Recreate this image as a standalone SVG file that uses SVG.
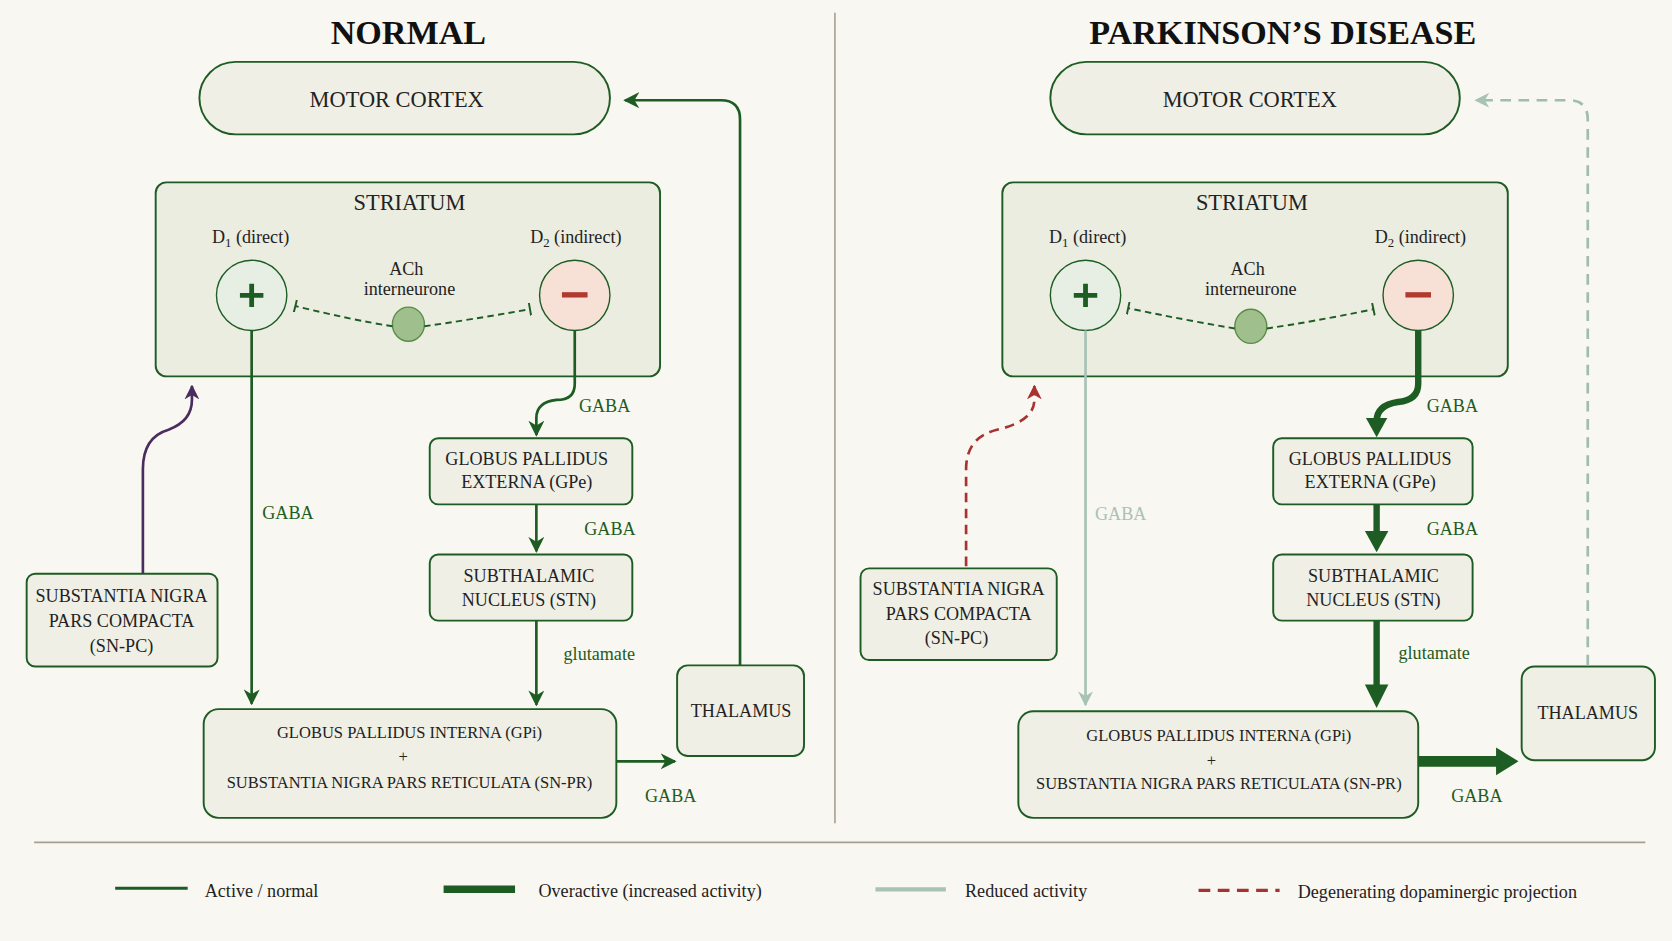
<svg xmlns="http://www.w3.org/2000/svg" width="1672" height="941" viewBox="0 0 1672 941">
<defs>
<style>
text{font-family:"Liberation Serif","DejaVu Serif",serif;fill:#222;text-anchor:middle}
.t{font-size:32px;font-weight:bold;fill:#111}
.n{font-size:17px}
.s{font-size:15.5px}
.nb{font-size:21px}
.box{fill:#efefe5;stroke:#1d5c22;stroke-width:1.8}
.lab{fill:#1d5c22;font-size:17px}
.g{fill:none;stroke:#1d5c22;stroke-width:2.5}
.gt{fill:none;stroke:#1d5c22;stroke-width:6}
.lt{fill:none;stroke:#a8c2b6;stroke-width:2.5}
</style>
<marker id="ag" viewBox="0 0 10 10" refX="9" refY="5" markerWidth="15" markerHeight="15" markerUnits="userSpaceOnUse" orient="auto"><path d="M0,0 L10,5 L0,10 L3,5z" fill="#1d5c22"/></marker>
<marker id="al" viewBox="0 0 10 10" refX="9" refY="5" markerWidth="14" markerHeight="14" markerUnits="userSpaceOnUse" orient="auto"><path d="M0,0 L10,5 L0,10 L3,5z" fill="#a8c2b6"/></marker>
<marker id="ap" viewBox="0 0 10 10" refX="9" refY="5" markerWidth="14" markerHeight="14" markerUnits="userSpaceOnUse" orient="auto"><path d="M0,0 L10,5 L0,10 L3,5z" fill="#4a2d5e"/></marker>
<marker id="ar" viewBox="0 0 10 10" refX="9" refY="5" markerWidth="14" markerHeight="14" markerUnits="userSpaceOnUse" orient="auto"><path d="M0,0 L10,5 L0,10 L3,5z" fill="#a83232"/></marker>
<marker id="tb" viewBox="0 0 4 12" refX="2" refY="6" markerWidth="4" markerHeight="12" markerUnits="userSpaceOnUse" orient="auto"><path d="M2,0 V12" stroke="#1d5c22" stroke-width="1.8"/></marker>
</defs>
<rect width="1672" height="941" fill="#f9f7f1"/>
<g transform="scale(1.06633)">
<line x1="783" y1="12" x2="783" y2="772" stroke="#a89f92" stroke-width="1.5"/>
<line x1="32" y1="790" x2="1543" y2="790" stroke="#a89f92" stroke-width="1.5"/>
<text class="t" x="383" y="41">NORMAL</text>
<text class="t" x="1203" y="41">PARKINSON’S DISEASE</text>

<!-- Normal nodes -->
<g id="n-motor"><rect class="box" x="187" y="58" width="385" height="68" rx="34"/><text class="nb" x="372" y="100">MOTOR CORTEX</text></g>
<g id="n-striatum"><rect x="146" y="171" width="473" height="182" rx="10" fill="#ebede1" stroke="#1d5c22" stroke-width="1.8"/><text class="nb" x="384" y="197">STRIATUM</text>
<text class="n" x="235" y="228" font-size="18">D<tspan font-size="12" dy="4">1</tspan><tspan dy="-4"> (direct)</tspan></text>
<text class="n" x="540" y="228" font-size="18">D<tspan font-size="12" dy="4">2</tspan><tspan dy="-4"> (indirect)</tspan></text></g>
<g id="n-d1"><circle cx="236" cy="277" r="33" fill="#e7eee4" stroke="#1d5c22" stroke-width="1.3"/><path d="M236,266 V288 M225,277 H247" stroke="#1d5c22" stroke-width="4.5"/></g>
<g id="n-d2"><circle cx="539" cy="277" r="33" fill="#f7e0d6" stroke="#1d5c22" stroke-width="1.3"/><rect x="527" y="274" width="24" height="5" fill="#b03a2e"/></g>
<g id="n-ach"><text class="n" x="381" y="258">ACh</text><text class="n" x="384" y="277">interneurone</text><ellipse cx="383" cy="304" rx="15" ry="16" fill="#9fc08c" stroke="#5b8a4a" stroke-width="1.3"/></g>
<g id="n-gpe"><rect class="box" x="403" y="411" width="190" height="62" rx="8"/><text class="n" x="494" y="436">GLOBUS PALLIDUS</text><text class="n" x="494" y="458">EXTERNA (GPe)</text></g>
<g id="n-stn"><rect class="box" x="403" y="520" width="190" height="62" rx="8"/><text class="n" x="496" y="546">SUBTHALAMIC</text><text class="n" x="496" y="568">NUCLEUS (STN)</text></g>
<g id="n-gpi"><rect class="box" x="191" y="665" width="387" height="102" rx="14"/><text class="s" x="384" y="692">GLOBUS PALLIDUS INTERNA (GPi)</text><text class="s" x="378" y="715">+</text><text class="s" x="384" y="739">SUBSTANTIA NIGRA PARS RETICULATA (SN-PR)</text></g>
<g id="n-thal"><rect class="box" x="635" y="624" width="119" height="85" rx="10"/><text class="n" x="695" y="672">THALAMUS</text></g>
<g id="n-snpc"><rect class="box" x="25" y="538" width="179" height="87" rx="8"/><text class="n" x="114" y="565">SUBSTANTIA NIGRA</text><text class="n" x="114" y="588">PARS COMPACTA</text><text class="n" x="114" y="611">(SN-PC)</text></g>
<g id="labels-normal"><text class="lab" x="270" y="487">GABA</text><text class="lab" x="567" y="386">GABA</text><text class="lab" x="572" y="502">GABA</text><text class="lab" x="562" y="619">glutamate</text><text class="lab" x="629" y="752">GABA</text></g>

<!-- PD nodes -->
<g id="p-motor"><rect class="box" x="985" y="58" width="384" height="68" rx="34"/><text class="nb" x="1172" y="100">MOTOR CORTEX</text></g>
<g id="p-striatum"><rect x="940" y="171" width="474" height="182" rx="10" fill="#ebede1" stroke="#1d5c22" stroke-width="1.8"/><text class="nb" x="1174" y="197">STRIATUM</text>
<text class="n" x="1020" y="228" font-size="18">D<tspan font-size="12" dy="4">1</tspan><tspan dy="-4"> (direct)</tspan></text>
<text class="n" x="1332" y="228" font-size="18">D<tspan font-size="12" dy="4">2</tspan><tspan dy="-4"> (indirect)</tspan></text></g>
<g id="p-d1"><circle cx="1018" cy="277" r="33" fill="#e7eee4" stroke="#1d5c22" stroke-width="1.3"/><path d="M1018,266 V288 M1007,277 H1029" stroke="#1d5c22" stroke-width="4.5"/></g>
<g id="p-d2"><circle cx="1330" cy="277" r="33" fill="#f7e0d6" stroke="#1d5c22" stroke-width="1.3"/><rect x="1318" y="274" width="24" height="5" fill="#b03a2e"/></g>
<g id="p-ach"><text class="n" x="1170" y="258">ACh</text><text class="n" x="1173" y="277">interneurone</text><ellipse cx="1173" cy="306" rx="15" ry="16" fill="#9fc08c" stroke="#5b8a4a" stroke-width="1.3"/></g>
<g id="p-gpe"><rect class="box" x="1194" y="411" width="187" height="62" rx="8"/><text class="n" x="1285" y="436">GLOBUS PALLIDUS</text><text class="n" x="1285" y="458">EXTERNA (GPe)</text></g>
<g id="p-stn"><rect class="box" x="1194" y="520" width="187" height="62" rx="8"/><text class="n" x="1288" y="546">SUBTHALAMIC</text><text class="n" x="1288" y="568">NUCLEUS (STN)</text></g>
<g id="p-gpi"><rect class="box" x="955" y="667" width="375" height="100" rx="14"/><text class="s" x="1143" y="695">GLOBUS PALLIDUS INTERNA (GPi)</text><text class="s" x="1136" y="718">+</text><text class="s" x="1143" y="740">SUBSTANTIA NIGRA PARS RETICULATA (SN-PR)</text></g>
<g id="p-thal"><rect class="box" x="1427" y="625" width="125" height="88" rx="12"/><text class="n" x="1489" y="674">THALAMUS</text></g>
<g id="p-snpc"><rect class="box" x="807" y="533" width="184" height="86" rx="8"/><text class="n" x="899" y="558">SUBSTANTIA NIGRA</text><text class="n" x="899" y="581">PARS COMPACTA</text><text class="n" x="897" y="604">(SN-PC)</text></g>
<g id="labels-pd"><text class="lab" x="1051" y="488" style="fill:#a8c2b6">GABA</text><text class="lab" x="1362" y="386">GABA</text><text class="lab" x="1362" y="502">GABA</text><text class="lab" x="1345" y="618">glutamate</text><text class="lab" x="1385" y="752">GABA</text></g>

<g id="connectors">
<path class="g" d="M236,310 V660" marker-end="url(#ag)"/>
<path class="g" d="M539,310 V360 Q539,375 522,375 Q503,377 503,392 V408" marker-end="url(#ag)"/>
<path class="g" d="M503,473 V517" marker-end="url(#ag)"/>
<path class="g" d="M503,582 V661" marker-end="url(#ag)"/>
<path class="g" d="M578,714 H633" marker-end="url(#ag)"/>
<path class="g" d="M694,624 V112 Q694,94 676,94 H586" marker-end="url(#ag)"/>
<path fill="none" stroke="#4a2d5e" stroke-width="2.5" d="M134,538 V440 Q134,410 158,403 Q180,395 180,375 V362" marker-end="url(#ap)"/>
<path fill="none" stroke="#1d5c22" stroke-width="1.8" stroke-dasharray="6 4" d="M368,306 Q330,300 277,287" marker-end="url(#tb)"/>
<path fill="none" stroke="#1d5c22" stroke-width="1.8" stroke-dasharray="6 4" d="M398,306 Q440,300 497,290" marker-end="url(#tb)"/>
<path class="lt" d="M1018,310 V661" marker-end="url(#al)"/>
<path class="gt" d="M1330,310 V360 Q1330,375 1311,377 Q1291,380 1291,395 V396"/>
<path d="M1281,392 H1301 L1291,410z" fill="#1d5c22"/>
<path class="gt" d="M1291,473 V500"/><path d="M1280,498 H1302 L1291,518z" fill="#1d5c22"/>
<path class="gt" d="M1291,582 V644"/><path d="M1280,642 H1302 L1291,664z" fill="#1d5c22"/>
<path d="M1330,709 H1403 V701 L1424,714 L1403,727 V719 H1330z" fill="#1d5c22"/>
<path fill="none" stroke="#9fbcb0" stroke-width="2.5" stroke-dasharray="10 7" d="M1489,624 V112 Q1489,94 1471,94 H1384" marker-end="url(#al)"/>
<path fill="none" stroke="#a83232" stroke-width="2.5" stroke-dasharray="9 6" d="M906,531 V440 Q906,410 935,403 Q970,395 970,375 V362" marker-end="url(#ar)"/>
<path fill="none" stroke="#1d5c22" stroke-width="1.8" stroke-dasharray="6 4" d="M1158,308 Q1110,300 1058,289" marker-end="url(#tb)"/>
<path fill="none" stroke="#1d5c22" stroke-width="1.8" stroke-dasharray="6 4" d="M1188,308 Q1230,302 1288,290" marker-end="url(#tb)"/>
</g>

<g id="legend">
<line x1="108" y1="833" x2="176" y2="833" stroke="#1d5c22" stroke-width="3"/><text class="n" x="192" y="841" style="text-anchor:start">Active / normal</text>
<line x1="416" y1="834" x2="483" y2="834" stroke="#1d5c22" stroke-width="7"/><text class="n" x="505" y="841" style="text-anchor:start">Overactive (increased activity)</text>
<line x1="821" y1="834" x2="887" y2="834" stroke="#a8c2b6" stroke-width="4"/><text class="n" x="905" y="841" style="text-anchor:start">Reduced activity</text>
<line x1="1124" y1="835" x2="1200" y2="835" stroke="#a83232" stroke-width="3" stroke-dasharray="11 7"/><text class="n" x="1217" y="842" style="text-anchor:start">Degenerating dopaminergic projection</text>
</g>
</g>
</svg>
